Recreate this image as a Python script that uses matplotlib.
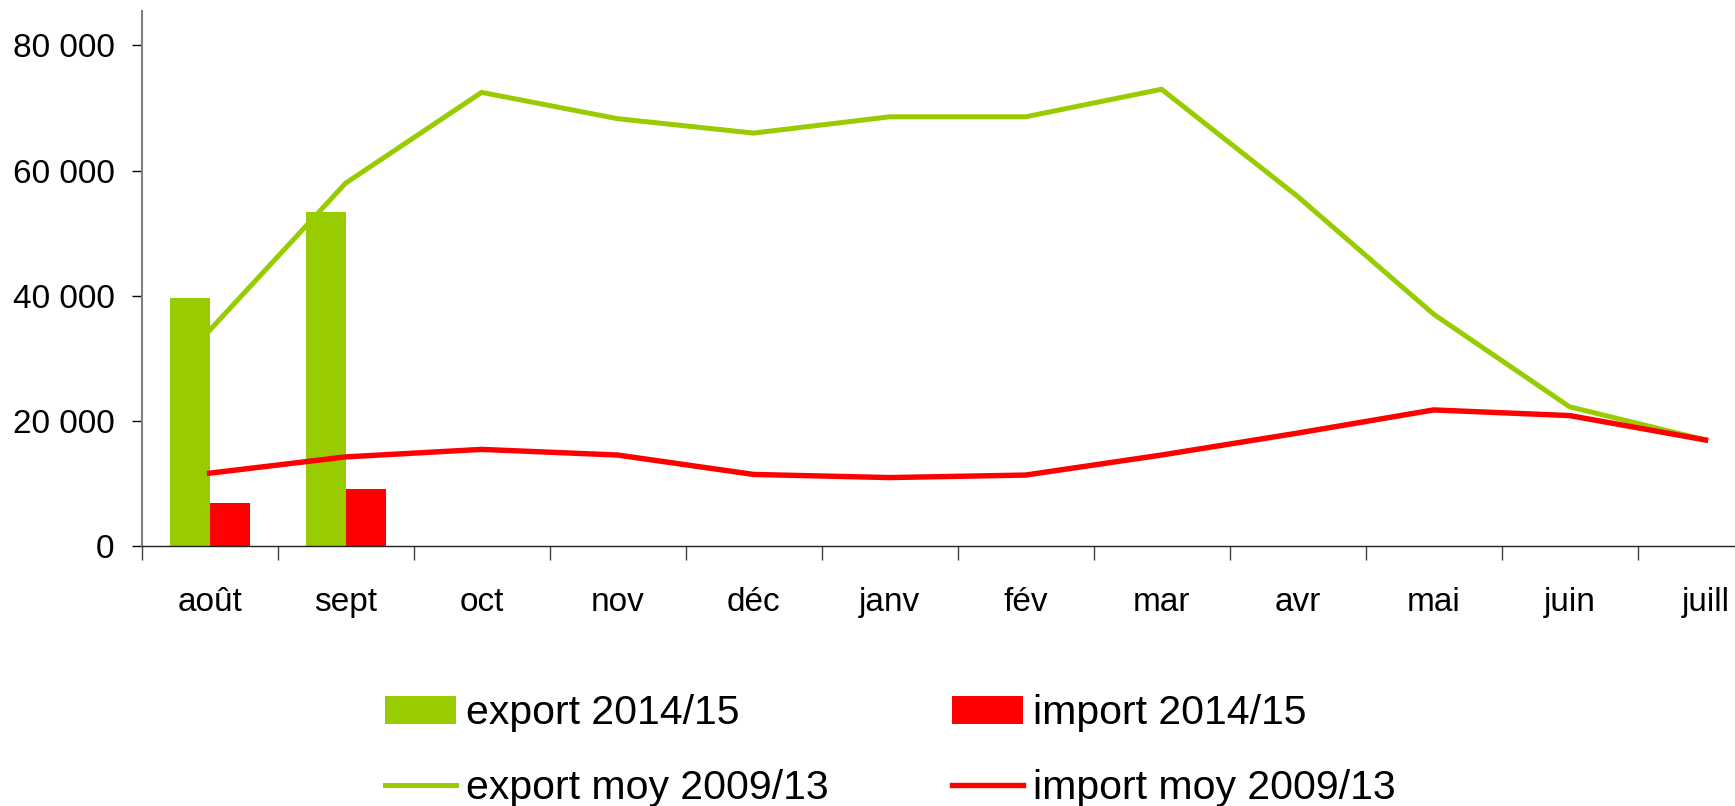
import numpy as np
import matplotlib
matplotlib.use("Agg")
import matplotlib.pyplot as plt
from matplotlib.ticker import FuncFormatter, FixedLocator

plt.rcParams["font.family"] = ["Liberation Sans", "DejaVu Sans"]

months = ["août", "sept", "oct", "nov", "déc", "janv", "fév", "mar", "avr", "mai", "juin", "juill"]
export_1415 = [39600, 53400]
import_1415 = [6900, 9100]
export_moy = [34500, 58000, 72500, 68300, 66000, 68600, 68600, 73000, 55900, 37100, 22300, 17000]
import_moy = [11700, 14300, 15500, 14600, 11500, 11000, 11400, 14600, 18100, 21800, 20900, 17000]

green = "#99CC00"
red = "#FF0000"

fig = plt.figure(figsize=(17.35, 8.06), dpi=100)
ax = fig.add_axes([0.0816, 0.322, 0.9406, 0.6644])

x = np.arange(len(months))
w = 0.294
xb = np.arange(len(export_1415))
b1 = ax.bar(xb - w / 2, export_1415, width=w, color=green, label="export 2014/15", zorder=2)
b2 = ax.bar(xb + w / 2, import_1415, width=w, color=red, label="import 2014/15", zorder=2)
l1, = ax.plot(x, export_moy, color=green, lw=3.6, label="export moy 2009/13", zorder=3)
l2, = ax.plot(x, import_moy, color=red, lw=3.9, label="import moy 2009/13", zorder=3)

ax.set_xlim(-0.5, len(months) - 0.5)
ax.set_ylim(0, 85500)
ax.set_yticks([0, 20000, 40000, 60000, 80000])
ax.yaxis.set_major_formatter(FuncFormatter(lambda v, p: f"{int(v):,}".replace(",", " ")))

# ticks at category boundaries, labels at centres
ax.xaxis.set_major_locator(FixedLocator(np.arange(-0.5, len(months), 1.0)))
ax.set_xticklabels([])
ax.set_xticks(x, minor=True)
ax.set_xticklabels(months, minor=True)
ax.tick_params(axis="x", which="major", length=10, width=1, color="#404040", direction="out")
ax.tick_params(axis="x", which="minor", length=0, pad=29, labelsize=24)
ax.tick_params(axis="y", length=7.5, width=1, direction="out", pad=12, labelsize=24)

for s in ["top", "right"]:
    ax.spines[s].set_visible(False)
ax.spines["left"].set_color("#808080")
ax.spines["left"].set_linewidth(1.5)
ax.spines["bottom"].set_color("#202020")
ax.spines["bottom"].set_linewidth(1)

fig.legend(
    handles=[b1, l1, b2, l2],
    labels=["export 2014/15", "export moy 2009/13", "import 2014/15", "import moy 2009/13"],
    ncol=2,
    loc="upper left",
    bbox_to_anchor=(0.222, 0.139),
    frameon=False,
    fontsize=29.5,
    handlelength=1.73,
    handleheight=0.68,
    handletextpad=0.25,
    columnspacing=3.0,
    labelspacing=0.9,
    borderaxespad=0,
    borderpad=0,
)

fig.savefig("out.png", dpi=100)
